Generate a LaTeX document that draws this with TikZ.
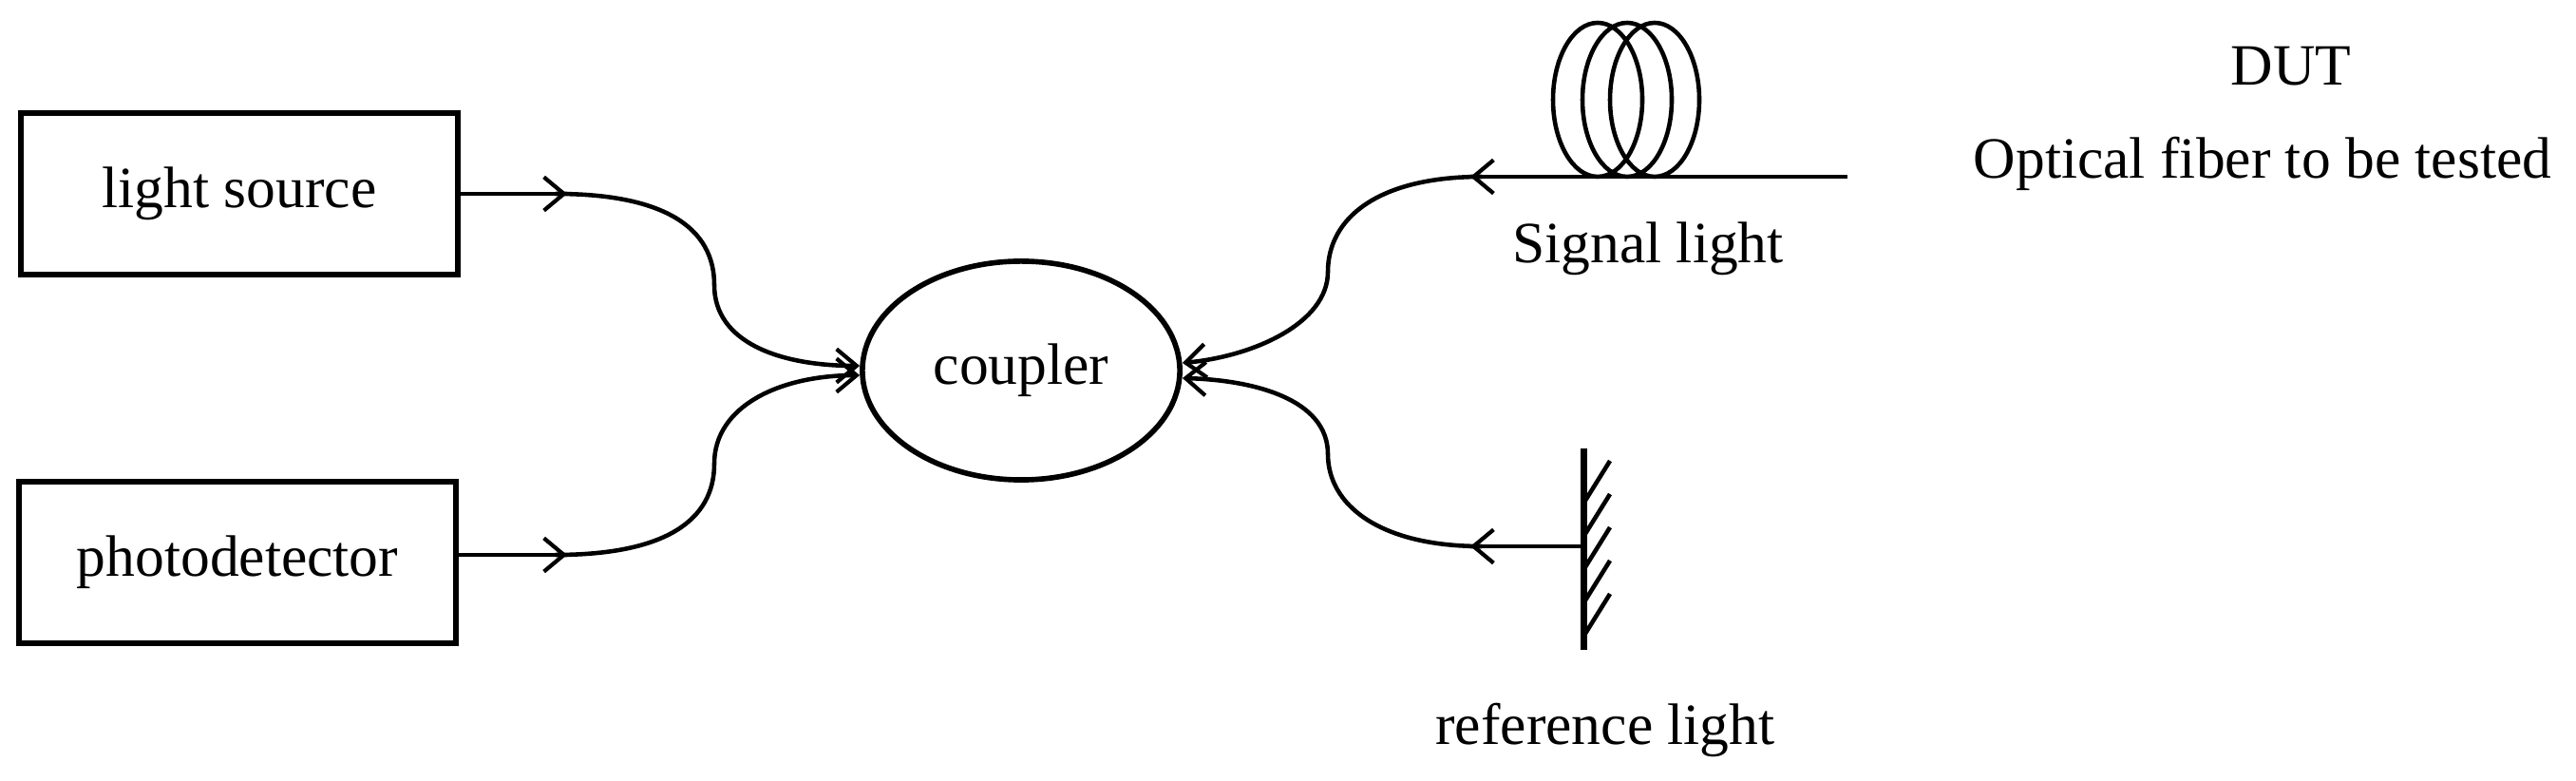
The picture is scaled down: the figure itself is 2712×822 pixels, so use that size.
\documentclass[tikz,border=0pt]{standalone}
\usepackage{fontspec}
\setmainfont{Liberation Serif}
\usetikzlibrary{shapes.geometric,arrows.meta}
\begin{document}
\begin{tikzpicture}[x=0.01cm,y=-0.01cm,
  ln/.style={line width=1.3pt},
  ar/.style={ln,-{Straight Barb[length=6pt,width=10pt,line width=1.2pt]}},
  box/.style={draw,line width=1.6pt,minimum width=4.6cm,minimum height=1.7cm,inner sep=0pt},
  txt/.style={font=\fontsize{17.5}{20}\selectfont}]
\useasboundingbox (0,0) rectangle (2712,822);
\node[box,txt] (ls) at (252,204) {light source};
\node[box,txt] (pd) at (250,592) {photodetector};
\node[draw,ellipse,line width=1.6pt,minimum width=3.34cm,minimum height=2.3cm,txt,inner sep=0pt] (cp) at (1075,390) {coupler};
% left connectors
\coordinate (a1) at (597,204);
\coordinate (a2) at (597,584);
\draw[ar] (ls.east|-a1) -- (a1);
\draw[ar] (pd.east|-a2) -- (a2);
\draw[ar] (a1) -- (585,204) .. controls (700,204) and (752,240) .. (752,300) .. controls (752,360) and (820,385) .. (cp.west|-0,385);
\draw[ar] (a2) -- (585,584) .. controls (700,584) and (752,548) .. (752,488) .. controls (752,428) and (820,395) .. (cp.west|-0,395);
% fiber coil
\coordinate (fe) at (1945,186);
\coordinate (s1) at (1548,186);
\draw[ar] (fe) -- (s1);
\foreach \cx in {1682,1713,1742} \draw[ln] (\cx,105) ellipse (47 and 81);
\draw[ar] (s1) -- (1560,186) .. controls (1450,186) and (1398,230) .. (1398,286) .. controls (1398,340) and (1320,375) .. (cp.east|-0,382);
% mirror
\coordinate (mt) at (1667,472);
\coordinate (mb) at (1667,684);
\coordinate (m0) at (1667,575);
\coordinate (r1) at (1548,575);
\draw[line width=2pt] (mt) -- (mb);
\foreach \yy in {505,540,575,610,645} \draw[ln] (1667,\yy+25) -- (1695,\yy-20);
\draw[ar] (m0) -- (r1);
\draw[ar] (r1) -- (1560,575) .. controls (1450,575) and (1398,530) .. (1398,478) .. controls (1398,420) and (1320,400) .. (cp.east|-0,398);
% labels
\node[txt] (sl) at (1735,262) {Signal light};
\node[txt] (rl) at (1690,768) {reference light};
\node[txt] (dut) at (2412,70) {DUT};
\node[txt] (oft) at (2382,172) {Optical fiber to be tested};
\end{tikzpicture}
\end{document}
